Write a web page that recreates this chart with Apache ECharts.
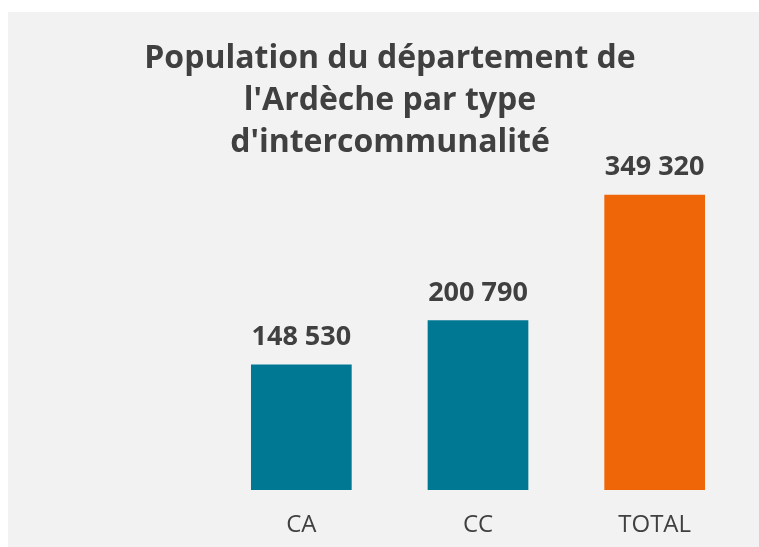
<!DOCTYPE html>
<html>
<head>
<meta charset="utf-8">
<script src="https://cdn.jsdelivr.net/npm/echarts@6/dist/echarts.min.js"></script>
<style>
  html, body { margin: 0; padding: 0; background: #fff; }
  #chart { position: absolute; left: 8px; top: 12px; width: 751px; height: 535px; background: #f2f2f2; }
</style>
</head>
<body>
<div id="chart"></div>
<script>
  const categories = ['CA', 'CC', 'TOTAL'];
  const population = [148530, 200790, 349320];
  const barColors = ['#007894', '#007894', '#ee6608'];

  const chart = echarts.init(document.getElementById('chart'));

  // thousands separated by a space
  const fmt = (v) => String(v).replace(/\B(?=(\d{3})+(?!\d))/g, ' ');

  const option = {
    textStyle: { fontFamily: '"Open Sans", sans-serif' },
    title: {
      text: "Population du département de\nl'Ardèche par type\nd'intercommunalité",
      left: 377,
      textAlign: 'center',
      top: 21,
      textStyle: {
        fontSize: 32,
        fontWeight: 'bold',
        color: '#404040',
        lineHeight: 42,
        fontFamily: '"Open Sans", sans-serif',
      },
    },
    grid: {
      top: 140,
      left: 205,
      right: 16,
      bottom: 57,
    },
    xAxis: {
      type: 'category',
      data: categories,
      axisLine: { show: false },
      axisTick: { show: false },
      axisLabel: {
        fontSize: 24,
        color: '#404040',
        margin: 23,
      },
    },
    yAxis: {
      type: 'value',
      min: 0,
      max: 400000,
      show: false,
      splitLine: { show: false },
    },
    series: [
      {
        type: 'bar',
        barWidth: '57%',
        data: population.map((v, i) => ({
          value: v,
          itemStyle: { color: barColors[i] },
        })),
        label: {
          show: true,
          position: 'top',
          distance: 14,
          fontSize: 27,
          fontWeight: 'bold',
          color: '#404040',
          formatter: (p) => fmt(p.value),
        },
      },
    ],
  };

  chart.setOption(option);
</script>
</body>
</html>
